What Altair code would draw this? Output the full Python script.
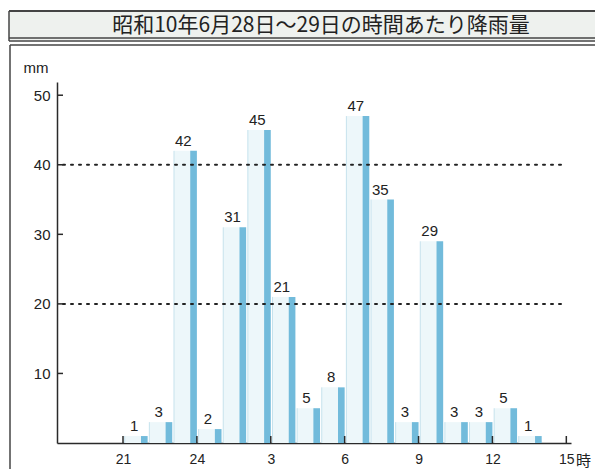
import altair as alt
import pandas as pd

# ---- data ----
hours = [22, 23, 24, 1, 2, 3, 4, 5, 6, 7, 8, 9, 10, 11, 12, 13, 14]
rain = [1, 3, 42, 2, 31, 45, 21, 5, 8, 47, 35, 3, 29, 3, 3, 5, 1]
tick_pos = [0, 3, 6, 9, 12, 15, 18]
tick_labels = ["21", "24", "3", "6", "9", "12", "15"]
y_ticks = [10, 20, 30, 40, 50]
grid_values = [20, 40]
title_text = "昭和10年6月28日～29日の時間あたり降雨量"
y_unit = "mm"
x_unit = "時"

W, H = 514, 361
PL, PT, PR, PB = 49, 74, 24, 26

df = pd.DataFrame({"hour": hours, "rain": rain})
df["t"] = [(h - 21) % 24 for h in hours]

FONT = "Liberation Sans"
JFONT = "Noto Sans CJK JP"
TXT = "#222222"
AX = "#2a2a2a"

xs = alt.Scale(domain=[-2.68, 18.19], nice=False, zero=False)
ys = alt.Scale(domain=[0, 51.9], nice=False)

one = alt.Data(values=[{"a": 1}])

base = alt.Chart(df).transform_calculate(
    p0="datum.t - 0.93", p1="datum.t - 0.2", d0="datum.t - 0.27", lx="datum.t - 0.55"
)

label_expr = "[" + ",".join("'%s'" % s for s in tick_labels) + "][datum.value / 3]"

pale = base.mark_rect(color="#edf7fa").encode(
    x=alt.X("p0:Q", scale=xs, axis=alt.Axis(
        values=tick_pos, labelExpr=label_expr, ticks=False, grid=False,
        domainColor=AX, domainWidth=1.5, labelFont=FONT, labelFontSize=14,
        labelColor=TXT, labelPadding=9, title=None)),
    x2="p1:Q",
    y=alt.Y("rain:Q", scale=ys, axis=alt.Axis(
        values=y_ticks, ticks=False, grid=False, domainColor=AX, domainWidth=1.5,
        labelFont=FONT, labelFontSize=15, labelColor=TXT, labelPadding=7, title=None)),
    y2=alt.datum(0),
)

pale_edge = base.mark_rule(color="#c6e2ed", strokeWidth=1).encode(
    x=alt.X("p0:Q", scale=xs), y=alt.Y("rain:Q", scale=ys), y2=alt.datum(0)
)

dark = base.mark_rect(color="#72bbdb").encode(
    x=alt.X("d0:Q", scale=xs), x2="t:Q", y=alt.Y("rain:Q", scale=ys), y2=alt.datum(0)
)

labels = base.mark_text(font=FONT, fontSize=15, color=TXT, baseline="bottom", dy=-2).encode(
    x=alt.X("lx:Q", scale=xs), y=alt.Y("rain:Q", scale=ys), text="rain:Q"
)

grid = alt.Chart(pd.DataFrame({"g": grid_values})).mark_rule(
    color="#222222", strokeWidth=2, strokeDash=[2, 6], strokeCap="round"
).encode(y=alt.Y("g:Q", scale=ys), x=alt.value(6), x2=alt.value(505))

yt = alt.Chart(pd.DataFrame({"v": y_ticks})).mark_rule(color=AX, strokeWidth=1.5).encode(
    y=alt.Y("v:Q", scale=ys), x=alt.value(0), x2=alt.value(6)
)

xt = alt.Chart(pd.DataFrame({"v": tick_pos})).mark_rule(color=AX, strokeWidth=1.5).encode(
    x=alt.X("v:Q", scale=xs), y=alt.value(H), y2=alt.value(H - 7)
)

# title box and frame decorations
box_fill = alt.Chart(one).mark_rect(color="#eef1ee").encode(
    x=alt.value(-48), x2=alt.value(W + PR), y=alt.value(-71), y2=alt.value(-42)
)

def hline(y, x1, x2, w=1.5, c="#444444"):
    return alt.Chart(one).mark_rule(color=c, strokeWidth=w).encode(
        x=alt.value(x1), x2=alt.value(x2), y=alt.value(y))

def vline(x, y1, y2, w=1.5, c="#444444"):
    return alt.Chart(one).mark_rule(color=c, strokeWidth=w).encode(
        x=alt.value(x), y=alt.value(y1), y2=alt.value(y2))

frames = [
    hline(-71, -48, W + PR, 2),
    hline(-44, -48, W + PR, 1.5),
    hline(-41, -48, W + PR, 1.5),
    vline(-48, -71, -41, 1.5),
    hline(-37, -47, W + PR, 1.5),
    vline(-47, -37, H + PB, 1.5),
]

title = alt.Chart(one).mark_text(font=JFONT, fontSize=21, color="#222222", baseline="middle").encode(
    x=alt.value(264), y=alt.value(-56), text=alt.value(title_text)
)

mm = alt.Chart(one).mark_text(font=FONT, fontSize=15, color=TXT, baseline="middle").encode(
    x=alt.value(-21), y=alt.value(-14), text=alt.value(y_unit)
)

ji = alt.Chart(one).mark_text(font=JFONT, fontSize=15, color=TXT, baseline="middle", align="left").encode(
    x=alt.value(519), y=alt.value(H + 18), text=alt.value(x_unit)
)

chart = alt.layer(
    box_fill, *frames, title, mm, pale, pale_edge, dark, grid, yt, xt, labels, ji
).properties(
    width=W, height=H,
    autosize=alt.AutoSizeParams(type="none"),
    padding={"left": PL, "top": PT, "right": PR, "bottom": PB},
).configure_view(stroke=None)

chart.save("out.html", embed_options={"renderer": "svg", "actions": False})
